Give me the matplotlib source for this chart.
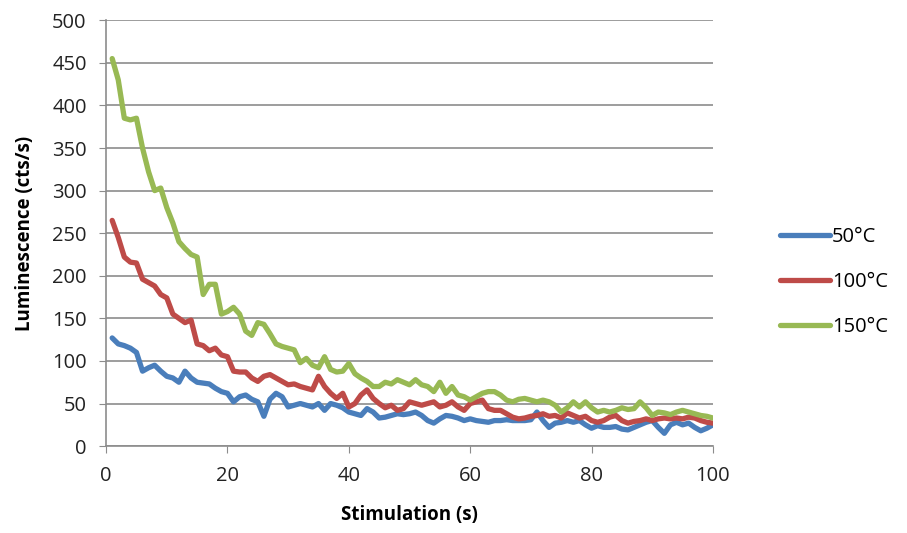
import numpy as np
import matplotlib
matplotlib.use('Agg')
from matplotlib import pyplot as plt

plt.rcParams['font.family'] = ['Open Sans', 'DejaVu Sans']

# stimulation time (s)
time_s = list(range(1, 101))

# luminescence (cts/s)
lum_150 = [455, 430, 385, 383, 385, 350, 322, 300, 303, 280,
           262, 240, 232, 225, 222, 178, 190, 190, 155, 158,
           163, 155, 135, 130, 145, 143, 132, 120, 117, 115,
           113, 98, 103, 95, 92, 105, 90, 87, 88, 97,
           85, 80, 76, 70, 70, 75, 73, 78, 75, 72,
           78, 72, 70, 64, 75, 62, 70, 60, 58, 54,
           58, 62, 64, 64, 60, 54, 52, 55, 56, 54,
           52, 54, 52, 48, 40, 45, 52, 46, 52, 45,
           40, 42, 40, 42, 45, 43, 44, 52, 45, 36,
           40, 39, 37, 40, 42, 40, 38, 36, 35, 33]

lum_100 = [265, 245, 222, 216, 215, 196, 192, 188, 178, 174,
           155, 150, 145, 148, 120, 118, 112, 115, 107, 105,
           88, 87, 87, 80, 76, 82, 84, 80, 76, 72,
           73, 70, 68, 66, 82, 70, 62, 56, 62, 46,
           50, 60, 66, 56, 50, 45, 48, 42, 44, 52,
           50, 48, 50, 52, 46, 48, 52, 46, 42, 50,
           52, 54, 44, 42, 42, 38, 34, 32, 33, 35,
           36, 38, 35, 36, 33, 39, 36, 33, 35, 30,
           28, 30, 34, 36, 30, 27, 29, 30, 32, 30,
           32, 33, 32, 33, 32, 34, 33, 30, 28, 27]

lum_50 = [127, 120, 118, 115, 110, 88, 92, 95, 88, 82,
          80, 75, 88, 80, 75, 74, 73, 68, 64, 62,
          52, 58, 60, 55, 52, 35, 55, 62, 58, 46,
          48, 50, 48, 46, 50, 42, 50, 48, 45, 40,
          38, 36, 44, 40, 33, 34, 36, 38, 37, 38,
          40, 36, 30, 27, 32, 36, 35, 33, 30, 32,
          30, 29, 28, 30, 30, 31, 30, 30, 30, 31,
          40, 30, 22, 27, 28, 30, 28, 30, 25, 21,
          24, 22, 22, 23, 20, 19, 22, 25, 28, 30,
          22, 15, 25, 28, 25, 27, 22, 18, 21, 25]

labels = ['50°C', '100°C', '150°C']
colors = ['#4A7EBB', '#BE4B48', '#98B954']

fig = plt.figure(figsize=(9.07, 5.33), dpi=100)
ax = fig.add_axes([0.117, 0.163, 0.669, 0.799])

for y, lab, c in zip([lum_50, lum_100, lum_150], labels, colors):
    ax.plot(time_s, y, color=c, lw=3.8, label=lab,
            solid_joinstyle='round', solid_capstyle='round')

ax.set_xlim(0, 100)
ax.set_ylim(0, 500)
ax.set_xticks(np.arange(0, 101, 20))
ax.set_yticks(np.arange(0, 501, 50))
ax.yaxis.grid(True, color='#8c8c8c', lw=1.2)
ax.set_axisbelow(True)
for s in ['top', 'right']:
    ax.spines[s].set_visible(False)
for s in ['left', 'bottom']:
    ax.spines[s].set_color('#8c8c8c')
    ax.spines[s].set_linewidth(1.2)
ax.tick_params(direction='out', length=5, color='#8c8c8c', labelsize=14.5,
               labelcolor='#222222', pad=9)

ax.set_xlabel('Stimulation (s)', fontsize=13.5, fontweight='bold', labelpad=14)
ax.set_ylabel('Luminescence (cts/s)', fontsize=13.5, fontweight='bold', labelpad=12)

leg = ax.legend(loc='center left', bbox_to_anchor=(1.08, 0.385), frameon=False,
                fontsize=14.5, handlelength=2.5, labelspacing=1.25,
                handletextpad=0.1)

plt.savefig('out.png', dpi=100)
